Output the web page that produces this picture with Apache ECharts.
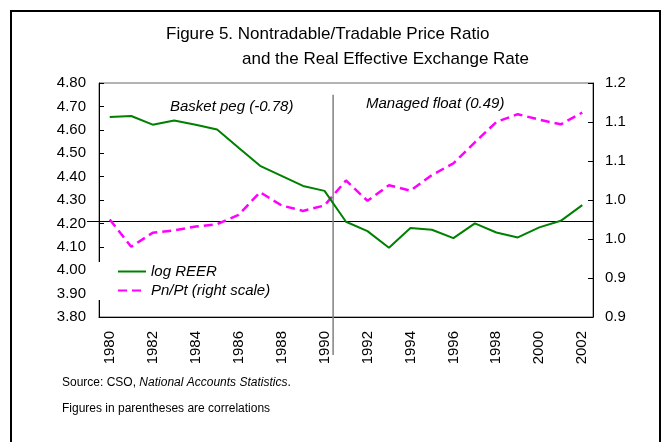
<!DOCTYPE html>
<html>
<head>
<meta charset="utf-8">
<script src="https://cdn.jsdelivr.net/npm/echarts@6/dist/echarts.min.js"></script>
<style>
  html, body { margin: 0; padding: 0; background: #fff; }
  #chart { width: 667px; height: 442px; }
</style>
</head>
<body>
<div id="chart"></div>
<script>
const FONT = '"Liberation Sans", Arial, sans-serif'

// years on the x axis
const years = ['1980', '1981', '1982', '1983', '1984', '1985', '1986', '1987', '1988', '1989', '1990',
  '1991', '1992', '1993', '1994', '1995', '1996', '1997', '1998', '1999', '2000', '2001', '2002']

// log REER (left scale)
const logReer = [4.655, 4.659, 4.622, 4.640, 4.622, 4.601, 4.523, 4.446, 4.403, 4.360, 4.339,
  4.207, 4.167, 4.096, 4.180, 4.173, 4.137, 4.200, 4.161, 4.140, 4.183, 4.211, 4.278]

// Pn/Pt (right scale)
const pnPt = [1.025, 0.990, 1.008, 1.011, 1.016, 1.019, 1.031, 1.060, 1.043, 1.036, 1.043,
  1.075, 1.049, 1.069, 1.062, 1.082, 1.097, 1.124, 1.150, 1.160, 1.153, 1.147, 1.162]

// right axis labels as printed (one decimal, 0.90 .. 1.20)
const rightTickLabels = ['0.9', '0.9', '1.0', '1.0', '1.1', '1.1', '1.2']

// reference lines
const refLevel = 4.21
const splitAfter = '1990'

let chart = echarts.init(document.getElementById('chart'))

const option = {
  animation: false,
  backgroundColor: '#fff',
  textStyle: { fontFamily: FONT, color: '#000' },
  title: [
    {
      text: 'Figure 5. Nontradable/Tradable Price Ratio',
      left: 166, top: 26, padding: 0,
      textStyle: { fontFamily: FONT, fontSize: 17, fontWeight: 'normal', color: '#000' }
    },
    {
      text: 'and the Real Effective Exchange Rate',
      left: 242, top: 51, padding: 0,
      textStyle: { fontFamily: FONT, fontSize: 17, fontWeight: 'normal', color: '#000' }
    }
  ],
  grid: {
    left: 99, right: 74, top: 83, bottom: 125,
    show: true, borderColor: '#666', borderWidth: 1
  },
  legend: {
    orient: 'vertical',
    left: 97, top: 262,
    padding: [2, 6, 2, 20],
    backgroundColor: '#fff',
    itemWidth: 28, itemHeight: 14, itemGap: 4,
    itemStyle: { opacity: 0 },
    textStyle: { fontFamily: FONT, fontSize: 15, fontStyle: 'italic', color: '#000' },
    data: ['log REER', 'Pn/Pt (right scale)']
  },
  xAxis: {
    type: 'category',
    data: years,
    boundaryGap: true,
    axisLine: { lineStyle: { color: '#000', width: 1 } },
    axisTick: { inside: true, length: 5, interval: 0, lineStyle: { color: '#000' } },
    axisLabel: { interval: 1, rotate: 90, margin: 14, fontSize: 15, color: '#000', fontFamily: FONT },
    splitLine: { show: false }
  },
  yAxis: [
    {
      type: 'value',
      min: 3.8, max: 4.8, interval: 0.1,
      axisLine: { show: true, lineStyle: { color: '#000' } },
      axisTick: { show: true, inside: true, length: 5, lineStyle: { color: '#000' } },
      axisLabel: { margin: 13, fontSize: 15, color: '#000', fontFamily: FONT,
        formatter: v => v.toFixed(2) },
      splitLine: { show: false }
    },
    {
      type: 'value',
      min: 0.9, max: 1.2, interval: 0.05,
      axisLine: { show: true, lineStyle: { color: '#000' } },
      axisTick: { show: true, inside: true, length: 5, lineStyle: { color: '#000' } },
      axisLabel: { margin: 12, fontSize: 15, color: '#000', fontFamily: FONT,
        formatter: v => rightTickLabels[Math.round((v - 0.9) / 0.05)] },
      splitLine: { show: false }
    }
  ],
  series: [
    {
      name: 'log REER',
      type: 'line',
      data: logReer,
      yAxisIndex: 0,
      symbol: 'none',
      lineStyle: { color: '#008000', width: 2 },
      itemStyle: { color: '#008000' },
      z: 3
    },
    {
      name: 'Pn/Pt (right scale)',
      type: 'line',
      data: pnPt,
      yAxisIndex: 1,
      symbol: 'none',
      lineStyle: { color: '#ff00ff', width: 2.5, type: [9, 5] },
      itemStyle: { color: '#ff00ff' },
      z: 2
    }
  ]
}

chart.setOption(option)

// 参考线和注释 (pixel positions come from the axes)
let gridRect = chart.getModel().getComponent('grid').coordinateSystem.getRect()
let yRef = Math.round(chart.convertToPixel({ yAxisIndex: 0 }, refLevel)) + 0.5
let xA = chart.convertToPixel({ xAxisIndex: 0 }, splitAfter)
let xB = chart.convertToPixel({ xAxisIndex: 0 }, years[years.indexOf(splitAfter) + 1])
let xSplit = xA + 0.4 * (xB - xA)
let yTop = chart.convertToPixel({ yAxisIndex: 0 }, 4.75)

chart.setOption({
  graphic: [
    {
      type: 'rect', silent: true, z: 10,
      shape: { x: 11, y: 11, width: 649, height: 460 },
      style: { fill: 'none', stroke: '#000', lineWidth: 2 }
    },
    {
      type: 'line', silent: true, z: 1,
      shape: { x1: gridRect.x - 12, y1: yRef, x2: gridRect.x + gridRect.width, y2: yRef },
      style: { stroke: '#000', lineWidth: 1 }
    },
    {
      type: 'line', silent: true, z: 1,
      shape: { x1: xSplit, y1: yTop, x2: xSplit, y2: gridRect.y + gridRect.height + 38 },
      style: { stroke: '#808080', lineWidth: 1.5 }
    },
    {
      type: 'text', left: 170, top: 99,
      style: { text: 'Basket peg (-0.78)', font: 'italic 15px ' + FONT, fill: '#000' }
    },
    {
      type: 'text', left: 366, top: 96,
      style: { text: 'Managed float (0.49)', font: 'italic 15px ' + FONT, fill: '#000' }
    },
    {
      type: 'text', left: 62, top: 377,
      style: {
        text: 'Source: CSO, {i|National Accounts Statistics}.',
        font: '12px ' + FONT, fill: '#000',
        rich: { i: { fontStyle: 'italic', fontSize: 12, fontFamily: FONT } }
      }
    },
    {
      type: 'text', left: 62, top: 403,
      style: { text: 'Figures in parentheses are correlations', font: '12px ' + FONT, fill: '#000' }
    }
  ]
})
</script>
</body>
</html>
